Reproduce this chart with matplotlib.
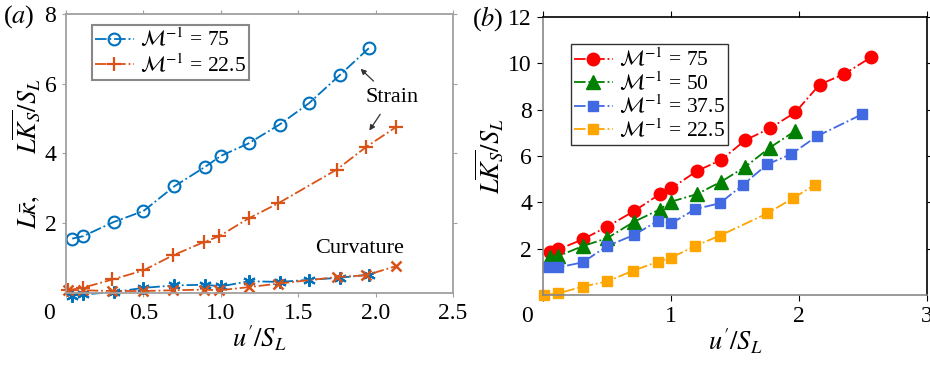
import matplotlib.pyplot as plt
import matplotlib.transforms as mtransforms

plt.rcParams['font.family'] = ['Liberation Serif', 'DejaVu Serif']
plt.rcParams['mathtext.fontset'] = 'stix'

# panel (a): M^-1 = 75 and 22.5, strain and curvature
u_75 = [0.04, 0.11, 0.31, 0.50, 0.70, 0.90, 1.00, 1.18, 1.38, 1.57, 1.77, 1.96]
strain_75 = [1.56, 1.63, 2.04, 2.35, 3.06, 3.62, 3.93, 4.29, 4.83, 5.44, 6.25, 7.03]
curv_75 = [-0.07, -0.04, 0.03, 0.15, 0.22, 0.24, 0.19, 0.34, 0.32, 0.38, 0.44, 0.53]

u_22 = [0.01, 0.11, 0.30, 0.50, 0.69, 0.89, 0.99, 1.18, 1.37, 1.75, 1.94, 2.13]
strain_22 = [0.08, 0.155, 0.39, 0.65, 1.08, 1.46, 1.63, 2.14, 2.57, 3.54, 4.19, 4.75]
curv_22 = [0.08, 0.08, 0.06, 0.06, 0.08, 0.10, 0.08, 0.17, 0.27, 0.46, 0.51, 0.77]

# panel (b): strain for four M^-1
u_b75 = [0.05, 0.12, 0.31, 0.50, 0.71, 0.91, 1.00, 1.20, 1.39, 1.58, 1.77, 1.97, 2.16, 2.35, 2.56]
k_b75 = [1.84, 1.97, 2.40, 2.95, 3.62, 4.35, 4.60, 5.35, 5.83, 6.69, 7.19, 7.89, 9.09, 9.54, 10.26]
u_b50 = [0.05, 0.12, 0.31, 0.50, 0.71, 0.91, 1.00, 1.20, 1.39, 1.58, 1.77, 1.97]
k_b50 = [1.65, 1.68, 2.11, 2.45, 3.16, 3.69, 4.03, 4.35, 4.89, 5.54, 6.36, 7.09]
u_b37 = [0.04, 0.12, 0.31, 0.50, 0.71, 0.90, 1.00, 1.19, 1.38, 1.56, 1.75, 1.94, 2.14, 2.49]
k_b37 = [1.22, 1.19, 1.41, 2.11, 2.59, 3.21, 3.09, 3.71, 3.96, 4.75, 5.64, 6.09, 6.86, 7.80]
u_b22 = [0.01, 0.12, 0.31, 0.50, 0.70, 0.90, 1.00, 1.19, 1.38, 1.75, 1.95, 2.12]
k_b22 = [0.00, 0.07, 0.36, 0.58, 1.04, 1.44, 1.61, 2.12, 2.56, 3.52, 4.17, 4.75]

fig = plt.figure(figsize=(9.3, 3.65), dpi=100)
ax1 = fig.add_axes([0.071, 0.197, 0.416, 0.765])
ax2 = fig.add_axes([0.584, 0.192, 0.413, 0.761])

blue = '#0072BD'
orange = '#D95319'
grey = '#A0A0A0'

# ---- panel (a)
ax1.axhline(0, color='#999999', ls='-.', lw=1.0, zorder=1)
ax1.plot(u_75, strain_75, '-.', color=blue, marker='o', mfc='none', ms=8.5, mew=1.5, lw=1.3,
         label=r'$\mathcal{M}^{-1}$ = 75', clip_on=False)
ax1.plot(u_22, strain_22, '-.', color=orange, marker='+', ms=9.5, mew=1.6, lw=1.3,
         label=r'$\mathcal{M}^{-1}$ = 22.5', clip_on=False)
ax1.plot(u_75, curv_75, '-.', color=blue, marker=(6, 2, 0), ms=9, mew=1.5, lw=1.3, clip_on=False)
ax1.plot(u_22, curv_22, '-.', color=orange, marker='x', ms=7, mew=1.8, lw=1.3, clip_on=False)

ax1.set_xlim(0, 2.5)
ax1.set_ylim(0, 8)
ax1.set_xticks([0, 0.5, 1.0, 1.5, 2.0, 2.5])
ax1.set_xticklabels(['0', '0.5', '1.0', '1.5', '2.0', '2.5'])
ax1.set_yticks([2, 4, 6, 8])
for s in ax1.spines.values():
    s.set_color(grey)
    s.set_linewidth(1.3)
ax1.tick_params(direction='out', length=3, color=grey, labelsize=17, top=True, right=True, pad=4)
ax1.set_xlabel(r"$u'/S_L$", fontsize=19, labelpad=0)
ax1.set_ylabel(r'$L\bar{\kappa},\qquad L\overline{K_S}/S_L$', fontsize=19, labelpad=2)

ax1.annotate('', xy=(1.89, 6.48), xytext=(2.0, 6.02),
             arrowprops=dict(arrowstyle='-|>', color='#333333', lw=0.9, mutation_scale=8))
ax1.annotate('', xy=(1.95, 4.59), xytext=(2.04, 5.19),
             arrowprops=dict(arrowstyle='-|>', color='#333333', lw=0.9, mutation_scale=8))
ax1.text(2.11, 5.59, 'Strain', fontsize=16, ha='center', va='center')
ax1.text(1.90, 1.28, 'Curvature', fontsize=16, ha='center', va='center')

leg1 = ax1.legend(loc='upper left', bbox_to_anchor=(0.05, 0.985), fontsize=15.5, fancybox=False,
                  edgecolor='#888888', framealpha=1, handlelength=1.8, borderpad=0.15,
                  labelspacing=0.1, handletextpad=0.3, borderaxespad=0.3)
leg1.get_frame().set_linewidth(1.5)

# ---- panel (b)
ax2.plot(u_b75, k_b75, '-.', color='#FF0000', marker='o', ms=9, lw=1.3,
         label=r'$\mathcal{M}^{-1}$ = 75', clip_on=False)
ax2.plot(u_b50, k_b50, '-.', color='#008000', marker='^', ms=9.5, lw=1.3,
         label=r'$\mathcal{M}^{-1}$ = 50', clip_on=False)
ax2.plot(u_b37, k_b37, '-.', color='#4169E1', marker='s', ms=7, lw=1.3,
         label=r'$\mathcal{M}^{-1}$ = 37.5', clip_on=False)
ax2.plot(u_b22, k_b22, '-.', color='#FFA500', marker='s', ms=7, lw=1.3,
         label=r'$\mathcal{M}^{-1}$ = 22.5', clip_on=False)

ax2.set_xlim(0, 3)
ax2.set_ylim(0, 12)
ax2.set_xticks([0, 1, 2, 3])
ax2.set_yticks([2, 4, 6, 8, 10, 12])
for side in ['left', 'bottom']:
    ax2.spines[side].set_color('#888888')
for s in ax2.spines.values():
    s.set_linewidth(1.2)
ax2.tick_params(direction='out', length=4, labelsize=17, top=True, right=True, pad=4)
ax2.set_xlabel(r"$u'/S_L$", fontsize=19, labelpad=0)
ax2.set_ylabel(r'$L\overline{K_S}/S_L$', fontsize=19, labelpad=2)

leg2 = ax2.legend(loc='upper left', bbox_to_anchor=(0.055, 0.925), fontsize=15.5, fancybox=False,
                  edgecolor='#333333', framealpha=1, handlelength=1.8, borderpad=0.15,
                  labelspacing=0.0, handletextpad=0.3, borderaxespad=0.3)
leg2.get_frame().set_linewidth(1.0)

# shift the shared "0" origin label left of the corner
for ax, dx in [(ax1, -17), (ax2, -16)]:
    lab = ax.get_xticklabels()[0]
    lab.set_transform(lab.get_transform() + mtransforms.ScaledTranslation(dx / 100, 0, fig.dpi_scale_trans))

fig.text(0.003, 0.955, r'($a$)', fontsize=19, va='center')
fig.text(0.507, 0.950, r'($b$)', fontsize=19, va='center')

fig.savefig('out.png', dpi=100)
